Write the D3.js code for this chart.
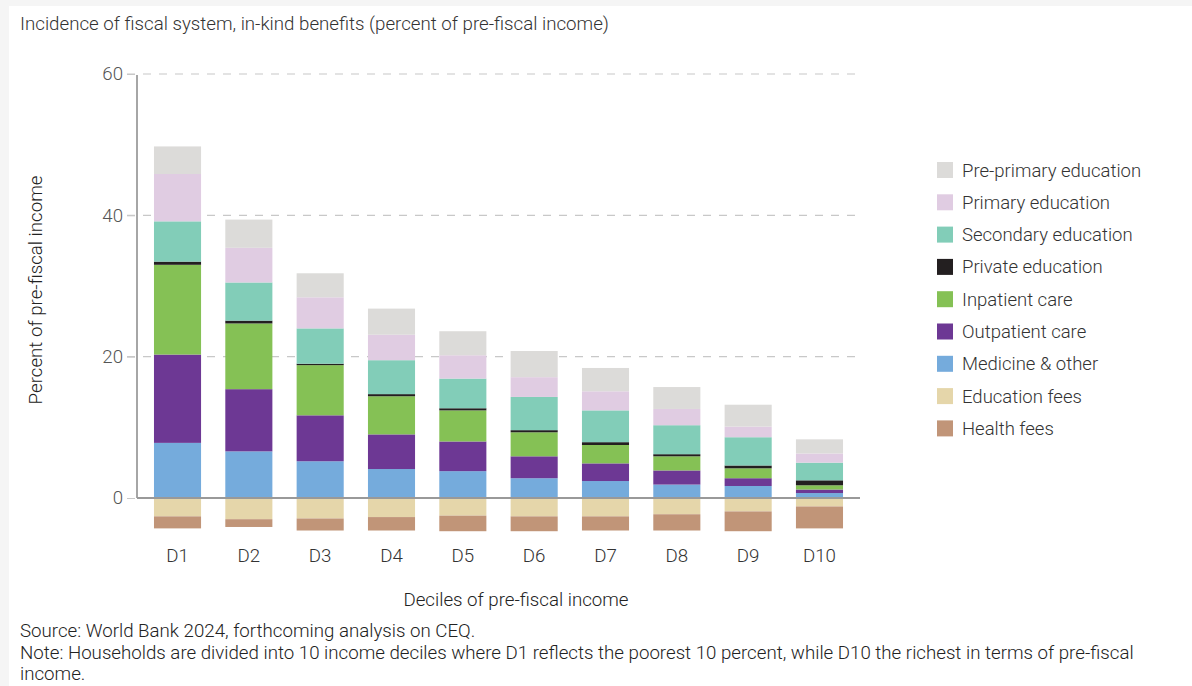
<!DOCTYPE html>
<html>
<head>
<meta charset="utf-8">
<script src="https://cdn.jsdelivr.net/npm/d3@7"></script>
<style>
  body { margin: 0; background: #f5f5f5; }
  svg { display: block; font-family: Roboto, "Noto Sans", sans-serif; font-weight: 300; }
</style>
</head>
<body>
<svg id="chart"></svg>
<script>
const deciles = ["D1", "D2", "D3", "D4", "D5", "D6", "D7", "D8", "D9", "D10"];
const yTicks = [0, 20, 40, 60];

const medicine   = [7.8, 6.6, 5.2, 4.1, 3.8, 2.8, 2.4, 1.9, 1.7, 0.7];
const outpatient = [12.5, 8.8, 6.5, 4.9, 4.2, 3.1, 2.5, 2.0, 1.1, 0.5];
const inpatient  = [12.7, 9.3, 7.1, 5.4, 4.4, 3.4, 2.6, 2.0, 1.4, 0.6];
const privateEdu = [0.45, 0.4, 0.2, 0.3, 0.3, 0.3, 0.4, 0.3, 0.4, 0.7];
const secondary  = [5.7, 5.4, 5.0, 4.8, 4.2, 4.7, 4.5, 4.1, 4.0, 2.5];
const primary    = [6.7, 4.9, 4.4, 3.6, 3.3, 2.8, 2.7, 2.3, 1.5, 1.3];
const preprimary = [3.9, 4.0, 3.4, 3.7, 3.4, 3.7, 3.3, 3.1, 3.1, 2.0];
const eduFees    = [-2.6, -3.0, -2.9, -2.7, -2.5, -2.6, -2.6, -2.3, -1.9, -1.2];
const healthFees = [-1.7, -1.1, -1.7, -1.9, -2.2, -2.1, -2.0, -2.3, -2.8, -3.1];

const series = [
  { key: "Medicine & other", values: medicine, color: "#75abdc" },
  { key: "Outpatient care", values: outpatient, color: "#6d3894" },
  { key: "Inpatient care", values: inpatient, color: "#85c155" },
  { key: "Private education", values: privateEdu, color: "#231f20" },
  { key: "Secondary education", values: secondary, color: "#82cdb8" },
  { key: "Primary education", values: primary, color: "#e0cce2" },
  { key: "Pre-primary education", values: preprimary, color: "#dcdbd9" },
  { key: "Education fees", values: eduFees, color: "#e5d6aa" },
  { key: "Health fees", values: healthFees, color: "#c19578" }
];

const legendOrder = ["Pre-primary education", "Primary education", "Secondary education",
  "Private education", "Inpatient care", "Outpatient care", "Medicine & other",
  "Education fees", "Health fees"];

const width = 1192, height = 686;
const fs = 18.7;

const svg = d3.select("#chart")
  .attr("width", width)
  .attr("height", height);

// white panel
svg.append("rect")
  .attr("x", 9).attr("y", 6)
  .attr("width", width - 9).attr("height", height - 6)
  .attr("fill", "#fff");

const table = deciles.map((d, i) => {
  const row = { decile: d };
  series.forEach(s => { row[s.key] = s.values[i]; });
  return row;
});

const stacked = d3.stack()
  .keys(series.map(s => s.key))
  .offset(d3.stackOffsetDiverging)(table);

const x = d3.scaleBand()
  .domain(deciles)
  .range([137, 860])
  .paddingInner(0.34)
  .paddingOuter(0.238);

const y = d3.scaleLinear()
  .domain([0, 60])
  .range([498, 74]);

const color = d3.scaleOrdinal()
  .domain(series.map(s => s.key))
  .range(series.map(s => s.color));

// title
svg.append("text")
  .attr("x", 20).attr("y", 30)
  .attr("font-size", fs)
  .attr("fill", "#333")
  .text("Incidence of fiscal system, in-kind benefits (percent of pre-fiscal income)");

// dashed grid
svg.append("g")
  .selectAll("line")
  .data(yTicks.filter(t => t > 0))
  .join("line")
  .attr("x1", 127).attr("x2", 857)
  .attr("y1", d => y(d)).attr("y2", d => y(d))
  .attr("stroke", "#c8c8c8")
  .attr("stroke-width", 1.2)
  .attr("stroke-dasharray", "8,8");

// y axis
const yAxis = svg.append("g")
  .attr("transform", "translate(135,0)")
  .call(d3.axisLeft(y).tickValues(yTicks).tickSize(8).tickPadding(4));
yAxis.select(".domain").remove();
yAxis.selectAll(".tick line").attr("stroke", "#c8c8c8");
yAxis.selectAll(".tick text")
  .attr("font-size", fs)
  .attr("font-family", "Roboto, sans-serif")
  .attr("font-weight", 300)
  .attr("fill", "#555");

svg.append("line")
  .attr("x1", 137).attr("x2", 137)
  .attr("y1", y(60) + 1).attr("y2", y(0))
  .attr("stroke", "#888").attr("stroke-width", 1.5);

// bars
svg.append("g")
  .selectAll("g")
  .data(stacked)
  .join("g")
  .attr("fill", d => color(d.key))
  .selectAll("rect")
  .data(d => d)
  .join("rect")
  .attr("x", d => x(d.data.decile))
  .attr("width", x.bandwidth())
  .attr("y", d => y(Math.max(d[0], d[1])))
  .attr("height", d => Math.abs(y(d[0]) - y(d[1])));

// x axis line
svg.append("line")
  .attr("x1", 137).attr("x2", 860)
  .attr("y1", y(0)).attr("y2", y(0))
  .attr("stroke", "#999").attr("stroke-width", 2);

// x labels
svg.append("g")
  .selectAll("text")
  .data(deciles)
  .join("text")
  .attr("x", d => x(d) + x.bandwidth() / 2)
  .attr("y", 562)
  .attr("text-anchor", "middle")
  .attr("font-size", fs)
  .attr("fill", "#333")
  .text(d => d);

svg.append("text")
  .attr("x", 516).attr("y", 606)
  .attr("text-anchor", "middle")
  .attr("font-size", fs)
  .attr("fill", "#222")
  .text("Deciles of pre-fiscal income");

svg.append("text")
  .attr("transform", "translate(42,290) rotate(-90)")
  .attr("text-anchor", "middle")
  .attr("font-size", fs)
  .attr("fill", "#222")
  .text("Percent of pre-fiscal income");

// legend
const legend = svg.append("g")
  .selectAll("g")
  .data(legendOrder)
  .join("g")
  .attr("transform", (d, i) => `translate(937,${162 + i * 32.3})`);
legend.append("rect")
  .attr("width", 16).attr("height", 16)
  .attr("fill", d => color(d));
legend.append("text")
  .attr("x", 25).attr("y", 14.5)
  .attr("font-size", 18.5)
  .attr("fill", "#333")
  .text(d => d);

// notes
const notes = [
  "Source: World Bank 2024, forthcoming analysis on CEQ.",
  "Note: Households are divided into 10 income deciles where D1 reflects the poorest 10 percent, while D10 the richest in terms of pre-fiscal",
  "income."
];
svg.append("g")
  .selectAll("text")
  .data(notes)
  .join("text")
  .attr("x", 20)
  .attr("y", (d, i) => 637 + i * 21.5)
  .attr("font-size", fs)
  .attr("fill", "#222")
  .text(d => d);
</script>
</body>
</html>
